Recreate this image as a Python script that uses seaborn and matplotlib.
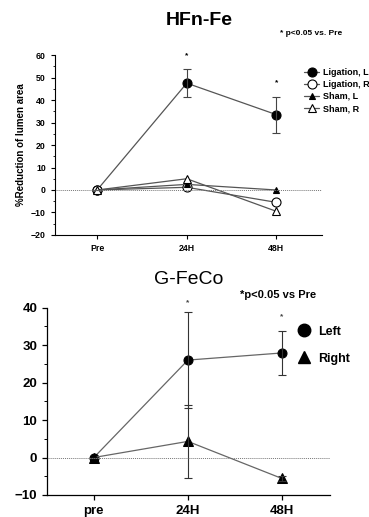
import matplotlib
matplotlib.use("Agg")
import matplotlib.pyplot as plt
from matplotlib.lines import Line2D
from matplotlib.ticker import MultipleLocator
import numpy as np
import pandas as pd
import seaborn as sns

sns.set_style("ticks")
matplotlib.rcParams["font.family"] = ["Liberation Sans", "DejaVu Sans"]
matplotlib.rcParams["font.weight"] = "bold"
matplotlib.rcParams["text.color"] = "black"
matplotlib.rcParams["axes.labelcolor"] = "black"
matplotlib.rcParams["xtick.color"] = "black"
matplotlib.rcParams["ytick.color"] = "black"
matplotlib.rcParams["axes.edgecolor"] = "black"

# --- top panel: HFn-Fe ---
TOP_TIMES = ["Pre", "24H", "48H"]
TOP_SERIES = ["Ligation, L", "Ligation, R", "Sham, L", "Sham, R"]
LIG_L = [0, 47.5, 33.5]
LIG_L_ERR = [0, 6.3, 8.0]
LIG_R = [0, 1.2, -5.5]
SHAM_L = [0, 2.5, 0]
SHAM_R = [0, 5.0, -9.5]
TOP_STARS = [("24H", 59.5), ("48H", 47.5)]

# --- bottom panel: G-FeCo ---
BOT_TIMES = ["pre", "24H", "48H"]
LEFT = [0, 26.0, 27.9]
LEFT_ERR = [0, 12.9, 5.8]
RIGHT = [0, 4.3, -5.6]
RIGHT_ERR = [0, 9.7, 0.6]
BOT_STARS = [("24H", 41.3), ("48H", 37.5)]

LINE_C = "#555555"

fig = plt.figure(figsize=(3.69, 5.17), dpi=100)

# ---------------- top ----------------
ax1 = fig.add_axes([0.149, 0.5455, 0.724, 0.348])
top_vals = [LIG_L, LIG_R, SHAM_L, SHAM_R]
top_mk = [("o", "black", 6.5), ("o", "white", 6.5), ("^", "black", 5), ("^", "white", 5.5)]
for name, vals, (m, fc, ms) in zip(TOP_SERIES, top_vals, top_mk):
    df = pd.DataFrame({"t": TOP_TIMES, "v": vals})
    sns.lineplot(data=df, x="t", y="v", ax=ax1, color=LINE_C, lw=0.9,
                 marker=m, markersize=ms, markerfacecolor=fc,
                 markeredgecolor="black", markeredgewidth=0.8, label=name, sort=False)
ax1.errorbar(TOP_TIMES, LIG_L, yerr=LIG_L_ERR, fmt="none", ecolor="#444444",
             elinewidth=0.8, capsize=3, capthick=0.8)
ax1.axhline(0, color="#777777", lw=0.7, ls=(0, (1, 1)))
for t, y in TOP_STARS:
    ax1.text(t, y, "*", ha="center", va="center", fontsize=6)
ax1.set_xlim(-0.47, 2.51)
ax1.set_ylim(-20, 60)
ax1.yaxis.set_major_locator(MultipleLocator(10))
ax1.yaxis.set_minor_locator(MultipleLocator(5))
ax1.tick_params(labelsize=6.3, length=3, width=0.8)
ax1.tick_params(which="minor", length=1.5, width=0.6)
ax1.set_xlabel("")
ax1.set_ylabel("%Reduction of lumen area", fontsize=7, fontweight="bold", labelpad=4)
ax1.set_title("HFn-Fe", fontsize=14, fontweight="bold", pad=22, x=0.54)
for lab in ax1.get_xticklabels() + ax1.get_yticklabels():
    lab.set_fontweight("bold")
for s in ["top", "right"]:
    ax1.spines[s].set_visible(False)
for s in ["left", "bottom"]:
    ax1.spines[s].set_linewidth(0.8)
ax1.legend(loc="upper left", bbox_to_anchor=(0.92, 0.95), frameon=False,
           prop={"size": 6.5, "weight": "bold"}, handlelength=1.6,
           handletextpad=0.5, labelspacing=0.35, borderaxespad=0)
fig.text(0.76, 0.936, "* p<0.05 vs. Pre", fontsize=6, fontweight="bold", va="center")

# ---------------- bottom ----------------
ax2 = fig.add_axes([0.127, 0.0426, 0.767, 0.3624])
for vals, m in [(LEFT, "o"), (RIGHT, "^")]:
    df = pd.DataFrame({"t": BOT_TIMES, "v": vals})
    sns.lineplot(data=df, x="t", y="v", ax=ax2, color="#666666", lw=0.9,
                 marker=m, markersize=6.5, markerfacecolor="black",
                 markeredgecolor="black", sort=False)
ax2.errorbar(BOT_TIMES, LEFT, yerr=LEFT_ERR, fmt="none", ecolor="#333333",
             elinewidth=0.8, capsize=3, capthick=0.8)
ax2.errorbar(BOT_TIMES, RIGHT, yerr=RIGHT_ERR, fmt="none", ecolor="#333333",
             elinewidth=0.8, capsize=3, capthick=0.8)
ax2.axhline(0, color="#777777", lw=0.7, ls=(0, (1, 1)))
for t, y in BOT_STARS:
    ax2.text(t, y, "*", ha="center", va="center", fontsize=6, color="#444444")
ax2.set_xlim(-0.5, 2.51)
ax2.set_ylim(-10, 40)
ax2.yaxis.set_major_locator(MultipleLocator(10))
ax2.yaxis.set_minor_locator(MultipleLocator(5))
ax2.tick_params(labelsize=9.5, length=3.5, width=0.9)
ax2.tick_params(which="minor", length=2, width=0.7)
ax2.set_xlabel("")
ax2.set_ylabel("")
ax2.set_title("G-FeCo", fontsize=14, fontweight="normal", pad=17, x=0.5)
for lab in ax2.get_xticklabels() + ax2.get_yticklabels():
    lab.set_fontweight("bold")
for s in ["top", "right"]:
    ax2.spines[s].set_visible(False)
for s in ["left", "bottom"]:
    ax2.spines[s].set_linewidth(0.9)
handles = [Line2D([], [], ls="none", marker="o", color="black", markersize=9),
           Line2D([], [], ls="none", marker="^", color="black", markersize=9)]
ax2.legend(handles, ["Left", "Right"], loc="upper left", bbox_to_anchor=(0.87, 0.93),
           frameon=False, prop={"size": 9, "weight": "bold"}, handlelength=1.0,
           handletextpad=0.6, labelspacing=1.2, borderaxespad=0)
fig.text(0.65, 0.43, "*p<0.05 vs Pre", fontsize=8, fontweight="bold", va="center")

fig.savefig("out.png", dpi=100)
